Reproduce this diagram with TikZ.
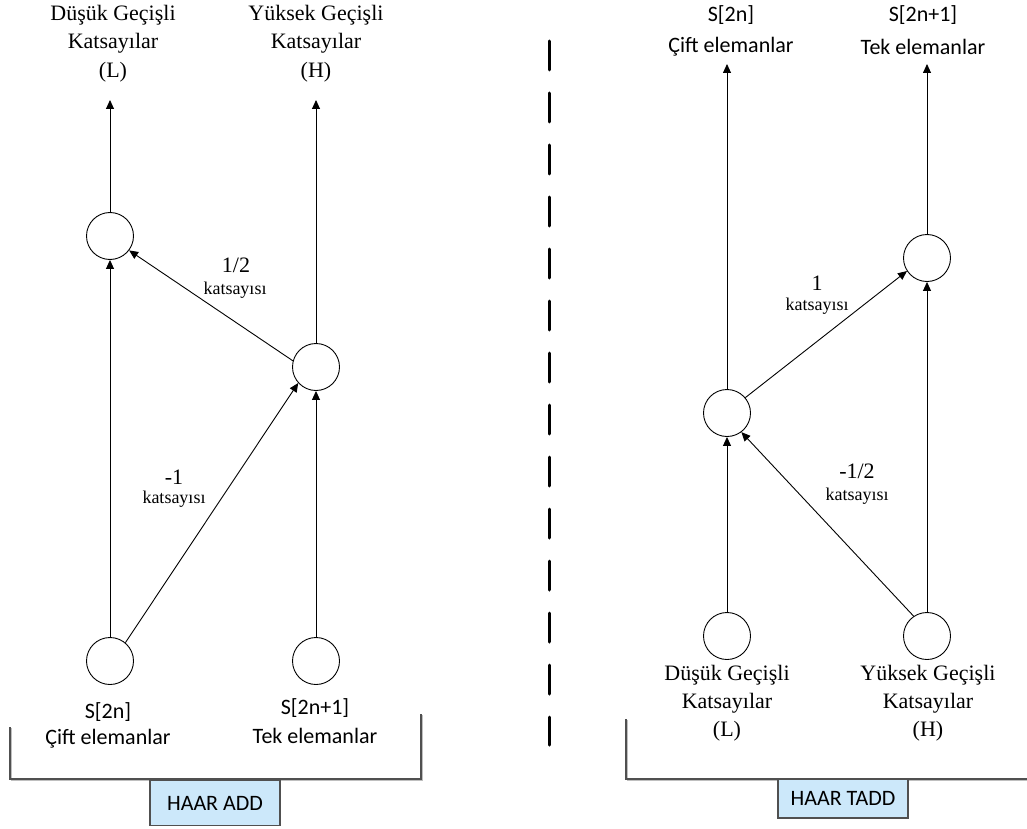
\documentclass[tikz,border=0pt]{standalone}
\usepackage{fontspec}
\setmainfont{Liberation Serif}
\newfontfamily\calib{Carlito}
\usetikzlibrary{arrows.meta}
\definecolor{boxblue}{RGB}{204,232,250}
\definecolor{framegray}{RGB}{80,80,80}
\begin{document}
\begin{tikzpicture}[x=1pt,y=-1pt,
  junction/.style={circle, draw, line width=0.9pt, minimum size=47pt, inner sep=0pt},
  conn/.style={line width=0.9pt, -{Triangle[length=9pt,width=8pt]}},
  serif/.style={inner sep=0pt, font=\fontsize{22}{26}\selectfont},
  coefnum/.style={inner sep=0pt, font=\fontsize{22}{26}\selectfont},
  coefword/.style={inner sep=0pt, font=\fontsize{18}{21}\selectfont},
  sans/.style={inner sep=0pt, font=\calib\fontsize{22}{26}\selectfont},
  frame/.style={draw=framegray, line width=1.3pt},
  frameshadow/.style={draw=black!25, line width=1.3pt},
  titlebox/.style={draw=framegray, line width=1.5pt, fill=boxblue, inner sep=0pt,
                   font=\calib\fontsize{22}{26}\selectfont}]
\useasboundingbox (0,0) rectangle (1027,829);

% ---------------- HAAR ADD ----------------
\node[junction] (a1) at (110,236) {};
\node[junction] (b1) at (316,367) {};
\node[junction] (c1) at (110,661) {};
\node[junction] (d1) at (316,661) {};

\node[serif] (lowA1) at (113,15) {Düşük Geçişli};
\node[serif] (lowA2) at (113,43) {Katsayılar};
\node[serif] (lowA3) at (113,72) {(L)};
\node[serif] (highA1) at (316,15) {Yüksek Geçişli};
\node[serif] (highA2) at (316,43) {Katsayılar};
\node[serif] (highA3) at (316,72) {(H)};

\coordinate (outL) at (110,100);
\coordinate (outH) at (316,100);

\draw[conn] (a1.north) -- (outL);
\draw[conn] (b1.north) -- (outH);
\draw[conn] (c1.north) -- (a1.south);
\draw[conn] (d1.north) -- (b1.south);
\draw[conn] (c1.50) -- (b1.222);
\draw[conn] (b1.165) -- (a1.323);

\node[coefnum] (kA1) at (236,265) {1/2};
\node[coefword] (kA1w) at (235,290) {katsayısı};
\node[coefnum] (kA2) at (174,477) {-1};
\node[coefword] (kA2w) at (174,499) {katsayısı};

\node[sans] (evenA1) at (108,712) {S[2n]};
\node[sans] (evenA2) at (108,739) {Çift elemanlar};
\node[sans] (oddA1) at (315,708) {S[2n+1]};
\node[sans] (oddA2) at (315,736) {Tek elemanlar};

\draw[frameshadow] (11.5,728) -- (11.5,780.5) -- (422.5,780.5) -- (422.5,715);
\draw[frame] (10,727) -- (10,779) -- (421,779) -- (421,714);
\node[titlebox, minimum width=130pt, minimum height=45pt] (haarA) at (215,803) {HAAR ADD};

% ---------------- separator ----------------
\draw[line width=3pt, line cap=round, dash pattern=on 29pt off 23pt] (549,41) -- (549,745);

% ---------------- HAAR TADD ----------------
\node[junction] (e2) at (927,258) {};
\node[junction] (f2) at (727,413) {};
\node[junction] (g2) at (727,636) {};
\node[junction] (h2) at (927,636) {};

\node[sans] (evenB1) at (731,15) {S[2n]};
\node[sans] (evenB2) at (731,47) {Çift elemanlar};
\node[sans] (oddB1) at (923,15) {S[2n+1]};
\node[sans] (oddB2) at (923,47) {Tek elemanlar};

\coordinate (outEven) at (727,64);
\coordinate (outOdd) at (927,64);

\draw[conn] (f2.north) -- (outEven);
\draw[conn] (e2.north) -- (outOdd);
\draw[conn] (g2.north) -- (f2.south);
\draw[conn] (h2.north) -- (e2.south);
\draw[conn] (f2.40) -- (e2.213);
\draw[conn] (h2.124) -- (f2.307);

\node[coefnum] (kB1) at (817,283) {1};
\node[coefword] (kB1w) at (817,306) {katsayısı};
\node[coefnum] (kB2) at (857,471) {-1/2};
\node[coefword] (kB2w) at (857,496) {katsayısı};

\node[serif] (lowB1) at (727,675) {Düşük Geçişli};
\node[serif] (lowB2) at (727,703) {Katsayılar};
\node[serif] (lowB3) at (727,731) {(L)};
\node[serif] (highB1) at (928,675) {Yüksek Geçişli};
\node[serif] (highB2) at (928,703) {Katsayılar};
\node[serif] (highB3) at (928,731) {(H)};

\draw[frameshadow] (627.5,720) -- (627.5,780.5) -- (1027,780.5);
\draw[frame] (626,719) -- (626,779) -- (1027,779);
\node[titlebox, minimum width=130pt, minimum height=39pt] (haarB) at (843,798.5) {HAAR TADD};
\end{tikzpicture}
\end{document}
